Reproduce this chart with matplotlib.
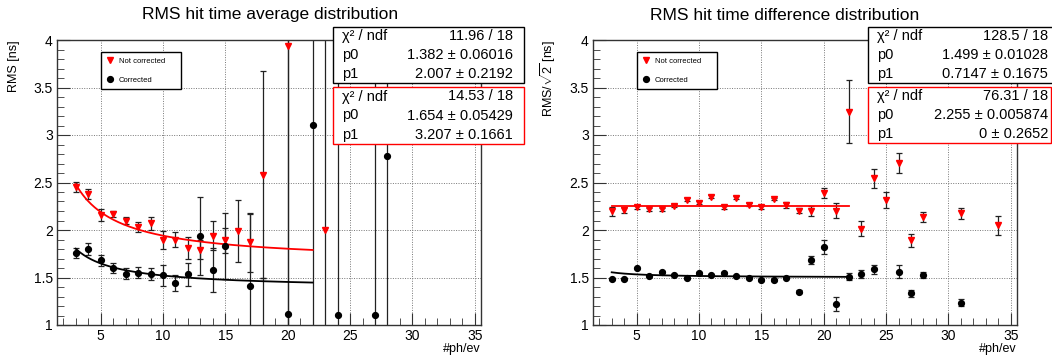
import numpy as np
import matplotlib
matplotlib.use('Agg')
import matplotlib.pyplot as plt
from matplotlib.lines import Line2D
from matplotlib.patches import Rectangle
from matplotlib.ticker import MultipleLocator, FormatStrFormatter

plt.rcParams['font.family'] = ['Liberation Sans', 'DejaVu Sans']
plt.rcParams['mathtext.fontset'] = 'custom'
plt.rcParams['mathtext.rm'] = 'Liberation Sans'

# ---- RMS hit time average (left pad) ----
avg_nc_x = [3, 4, 5, 6, 7, 8, 9, 10, 11, 12, 13, 14, 15, 16, 17, 18, 20, 23]
avg_nc_y = [2.45, 2.38, 2.16, 2.17, 2.10, 2.03, 2.07, 1.89, 1.90, 1.81, 1.79, 1.94,
            1.89, 1.99, 1.87, 2.58, 3.94, 2.00]
avg_nc_err = [0.055, 0.05, 0.06, 0.03, 0.035, 0.05, 0.065, 0.095, 0.08, 0.12, 0.10,
              0.15, 0.13, 0.33, 0.31, 1.09, 3.0, 3.0]

avg_c_x = [3, 4, 5, 6, 7, 8, 9, 10, 11, 12, 13, 14, 15, 17, 18, 20, 22, 24, 27, 28]
avg_c_y = [1.76, 1.80, 1.68, 1.60, 1.54, 1.55, 1.535, 1.525, 1.44, 1.535, 1.94, 1.58,
           1.83, 1.41, 0.9, 1.12, 3.11, 1.11, 1.11, 2.78]
avg_c_err = [0.05, 0.065, 0.055, 0.05, 0.06, 0.06, 0.065, 0.11, 0.085, 0.12, 0.41, 0.23,
             0.35, 0.76, 0.6, 3.0, 3.0, 3.0, 3.0, 3.0]

# ---- RMS hit time difference (right pad) ----
dif_nc_x = list(range(3, 29)) + [31, 34]
dif_nc_y = [2.195, 2.212, 2.237, 2.219, 2.219, 2.254, 2.318, 2.286, 2.349, 2.237, 2.342,
            2.268, 2.240, 2.327, 2.261, 2.205, 2.198, 2.390, 2.205, 3.245, 2.013, 2.547,
            2.313, 2.704, 1.891, 2.135, 2.174, 2.048]
dif_nc_err = [0.045, 0.035, 0.02, 0.015, 0.015, 0.015, 0.015, 0.015, 0.015, 0.015, 0.015,
              0.015, 0.015, 0.015, 0.03, 0.03, 0.05, 0.055, 0.075, 0.33, 0.08, 0.1,
              0.085, 0.105, 0.065, 0.05, 0.06, 0.1]

dif_c_x = list(range(3, 25)) + [26, 27, 28, 31]
dif_c_y = [1.482, 1.482, 1.595, 1.521, 1.556, 1.528, 1.496, 1.546, 1.525, 1.549, 1.511,
           1.500, 1.469, 1.469, 1.500, 1.350, 1.682, 1.825, 1.221, 1.510, 1.535, 1.587,
           1.563, 1.332, 1.524, 1.235]
dif_c_err = [0.01] * 15 + [0.015, 0.04, 0.075, 0.075, 0.035, 0.04, 0.045, 0.065, 0.035,
                           0.03, 0.035]

# fit results shown in the stat boxes: f(x) = sqrt(p0^2 + p1^2 / x), fitted on [3, 22]
avg_fit_c = (1.382, 2.007)
avg_fit_nc = (1.654, 3.207)
dif_fit_c = (1.499, 0.7147)
dif_fit_nc = (2.255, 0.0)
fit_range = (3, 22)

avg_stats_c = [('χ² / ndf', '11.96 / 18'), ('p0', '1.382 ± 0.06016'), ('p1', '2.007 ± 0.2192')]
avg_stats_nc = [('χ² / ndf', '14.53 / 18'), ('p0', '1.654 ± 0.05429'), ('p1', '3.207 ± 0.1661')]
dif_stats_c = [('χ² / ndf', '128.5 / 18'), ('p0', '1.499 ± 0.01028'), ('p1', '0.7147 ± 0.1675')]
dif_stats_nc = [('χ² / ndf', '76.31 / 18'), ('p0', '2.255 ± 0.005874'), ('p1', '0 ± 0.2652')]

W, H = 1052, 356
fig = plt.figure(figsize=(W / 100, H / 100), dpi=100)


def px_axes(x0, y0, x1, y1):
    return fig.add_axes([x0 / W, 1 - y1 / H, (x1 - x0) / W, (y1 - y0) / H])


def fit_curve(p):
    xx = np.linspace(fit_range[0], fit_range[1], 200)
    return xx, np.sqrt(p[0] ** 2 + p[1] ** 2 / xx)


def draw_pad(ax, nc, c, fit_nc, fit_c, ylabel, ylab_x, leg_box):
    ax.errorbar(nc[0], nc[1], yerr=nc[2], fmt='none', ecolor='#222222', elinewidth=0.9,
                capsize=2.5, capthick=0.9, zorder=2)
    ax.errorbar(c[0], c[1], yerr=c[2], fmt='none', ecolor='#222222', elinewidth=0.9,
                capsize=2.5, capthick=0.9, zorder=2)
    ax.plot(*fit_curve(fit_nc), color='red', lw=1.3, zorder=3)
    ax.plot(*fit_curve(fit_c), color='black', lw=1.3, zorder=3)
    ax.plot(nc[0], nc[1], 'v', color='red', ms=4.5, mec='red', zorder=4, ls='none')
    ax.plot(c[0], c[1], 'o', color='black', ms=4.2, zorder=4, ls='none')

    ax.set_xlim(1.5, 35.5)
    ax.set_ylim(1, 4)
    ax.xaxis.set_major_locator(MultipleLocator(5))
    ax.xaxis.set_minor_locator(MultipleLocator(1))
    ax.yaxis.set_major_locator(MultipleLocator(0.5))
    ax.yaxis.set_minor_locator(MultipleLocator(0.1))
    ax.yaxis.set_major_formatter(FormatStrFormatter('%g'))
    ax.tick_params(which='both', direction='in', labelsize=10, pad=3, color='#333333')
    ax.tick_params(which='major', length=9)
    ax.tick_params(which='minor', length=5)
    ax.grid(True, which='major', linestyle=(0, (1, 1.5)), color='#777777', lw=0.7)
    for s in ax.spines.values():
        s.set_color('#333333')
        s.set_linewidth(1.0)

    ax.set_ylabel(ylabel, fontsize=9, loc='top')
    ax.yaxis.set_label_coords(ylab_x, 1.0)
    ax.set_xlabel('#ph/ev', fontsize=9, loc='right')
    ax.xaxis.set_label_coords(1.0, -0.062)

    handles = [Line2D([], [], marker='v', color='red', ls='none', ms=4.5),
               Line2D([], [], marker='o', color='black', ls='none', ms=4.2)]
    x0, y0, x1, y1 = leg_box
    leg = ax.legend(handles, ['Not corrected', 'Corrected'], loc='upper left',
                    bbox_to_anchor=(x0, y0, x1 - x0, y1 - y0), mode='expand',
                    fontsize=5.5, fancybox=False, edgecolor='black', framealpha=1,
                    borderpad=0.7, labelspacing=1.5, handlelength=1.0,
                    handletextpad=0.6, borderaxespad=0)
    leg.get_frame().set_linewidth(1.0)


def stat_box(x0, y0, x1, y1, color, rows, lab_x, val_x):
    fig.add_artist(Rectangle((x0 / W, 1 - y1 / H), (x1 - x0) / W, (y1 - y0) / H,
                             transform=fig.transFigure, facecolor='white',
                             edgecolor=color, lw=1.0, zorder=5))
    h = (y1 - y0) / 3.0
    for i, (lab, val) in enumerate(rows):
        yc = 1 - (y0 + h * (i + 0.5)) / H
        fig.text(lab_x / W, yc, lab, ha='left', va='center', fontsize=10.5, zorder=6)
        fig.text(val_x / W, yc, val, ha='right', va='center', fontsize=10.5, zorder=6)


# pixel geometry of the two frames
axL = px_axes(57, 40, 481, 325)
axR = px_axes(593, 40, 1017, 325)

# legend boxes in axes fractions
legL = ((101 - 57) / 424, 1 - (88 - 40) / 285, (181 - 57) / 424, 1 - (52 - 40) / 285)
legR = ((637 - 593) / 424, 1 - (88 - 40) / 285, (717 - 593) / 424, 1 - (52 - 40) / 285)

draw_pad(axL, (avg_nc_x, avg_nc_y, avg_nc_err), (avg_c_x, avg_c_y, avg_c_err),
         avg_fit_nc, avg_fit_c, 'RMS [ns]', -0.087, legL)
draw_pad(axR, (dif_nc_x, dif_nc_y, dif_nc_err), (dif_c_x, dif_c_y, dif_c_err),
         dif_fit_nc, dif_fit_c, r'RMS/$\sqrt{2}$ [ns]', -0.083, legR)

fig.text(270 / W, 1 - 15 / H, 'RMS hit time average distribution', ha='center',
         va='center', fontsize=12.5)
fig.text(785 / W, 1 - 15 / H, 'RMS hit time difference distribution', ha='center',
         va='center', fontsize=12.5)

stat_box(333, 27, 524, 83, 'black', avg_stats_c, 342, 513)
stat_box(333, 87, 524, 144, 'red', avg_stats_nc, 342, 513)
stat_box(868, 27, 1056, 83, 'black', dif_stats_c, 877, 1048)
stat_box(868, 87, 1051, 143, 'red', dif_stats_nc, 877, 1048)

fig.savefig('out.png', dpi=100)
